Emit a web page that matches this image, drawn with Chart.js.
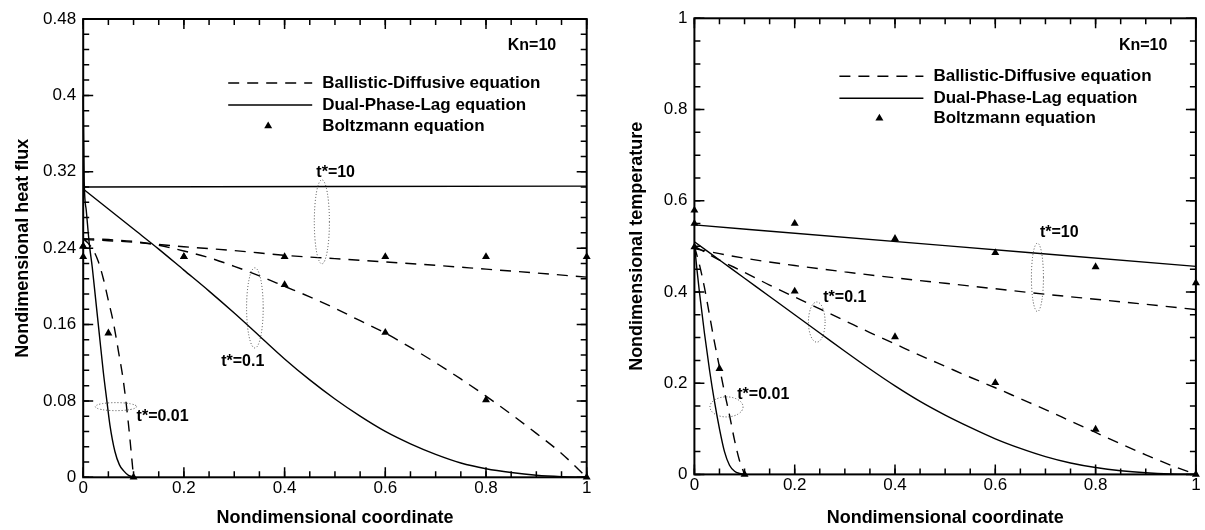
<!DOCTYPE html>
<html>
<head>
<meta charset="utf-8">
<script src="https://cdn.jsdelivr.net/npm/chart.js@4.4.0/dist/chart.umd.min.js"></script>
<style>
html, body { margin: 0; padding: 0; background: #fff; }
#wrap { position: relative; width: 1205px; height: 530px; }
.panel { position: absolute; top: 0; height: 530px; }
</style>
</head>
<body>
<div id="wrap">
  <div class="panel" style="left:0;width:600px"><canvas id="flux" width="600" height="530"></canvas></div>
  <div class="panel" style="left:600px;width:605px"><canvas id="temp" width="605" height="530"></canvas></div>
</div>
<script>
// ---- axis ticks ----
const xMajor = [0, 0.2, 0.4, 0.6, 0.8, 1];
const fluxMajor = [0, 0.08, 0.16, 0.24, 0.32, 0.4, 0.48];
const tempMajor = [0, 0.2, 0.4, 0.6, 0.8, 1];

// ---- left panel: heat flux ----
const fluxBd10X = [0, 0.05, 0.1, 0.2, 0.3, 0.4, 0.5, 0.6, 0.7, 0.8, 0.9, 1];
const fluxBd10Y = [0.249, 0.2478, 0.2462, 0.2415, 0.2375, 0.2325, 0.229, 0.2255, 0.222, 0.218, 0.214, 0.2096];
const fluxDpl10X = [0, 0.5, 1];
const fluxDpl10Y = [0.304, 0.3045, 0.305];

const fluxBd01X = [0, 0.05, 0.1, 0.15, 0.2, 0.25, 0.3, 0.35, 0.4, 0.45, 0.5, 0.55, 0.6, 0.65, 0.7, 0.75, 0.8, 0.85, 0.9, 0.95, 1];
const fluxBd01Y = [0.25, 0.249, 0.247, 0.243, 0.237, 0.23, 0.221, 0.211, 0.2, 0.189, 0.177, 0.164, 0.151, 0.136, 0.12, 0.103, 0.085, 0.066, 0.046, 0.025, 0];
const fluxDpl01X = [0, 0.05, 0.1, 0.15, 0.2, 0.25, 0.3, 0.35, 0.4, 0.45, 0.5, 0.55, 0.6, 0.65, 0.7, 0.75, 0.8, 0.85, 0.9, 0.95, 1];
const fluxDpl01Y = [0.302, 0.281, 0.26, 0.239, 0.217, 0.195, 0.172, 0.148, 0.124, 0.102, 0.082, 0.064, 0.048, 0.035, 0.024, 0.015, 0.009, 0.005, 0.0022, 0.0007, 0];

const fluxBd001X = [0, 0.01, 0.02, 0.03, 0.04, 0.05, 0.06, 0.07, 0.08, 0.09, 0.1];
const fluxBd001Y = [0.25, 0.245, 0.238, 0.226, 0.208, 0.185, 0.162, 0.132, 0.1, 0.055, 0];
const fluxDpl001X = [0, 0.002, 0.006, 0.012, 0.018, 0.025, 0.032, 0.04, 0.047, 0.053, 0.063, 0.072, 0.08, 0.09, 0.1];
const fluxDpl001Y = [0.40, 0.31, 0.28, 0.245, 0.22, 0.185, 0.15, 0.11, 0.08, 0.055, 0.027, 0.013, 0.007, 0.002, 0.0005];

const fluxBz10X = [0, 0.2, 0.4, 0.6, 0.8, 1];
const fluxBz10Y = [0.231, 0.231, 0.231, 0.231, 0.231, 0.231];
const fluxBz01X = [0, 0.2, 0.4, 0.6, 0.8, 1];
const fluxBz01Y = [0.242, 0.231, 0.2016, 0.1516, 0.081, 0];
const fluxBz001X = [0, 0.05, 0.1];
const fluxBz001Y = [0.242, 0.151, 0];

// ---- right panel: temperature ----
const tempBd10X = [0, 0.05, 0.1, 0.2, 0.3, 0.4, 0.5, 0.6, 0.7, 0.8, 0.9, 1];
const tempBd10Y = [0.495, 0.484, 0.474, 0.458, 0.444, 0.431, 0.419, 0.407, 0.395, 0.384, 0.373, 0.3615];
const tempDpl10X = [0, 0.5, 1];
const tempDpl10Y = [0.547, 0.5015, 0.456];

const tempBd01X = [0, 0.05, 0.1, 0.15, 0.2, 0.25, 0.3, 0.35, 0.4, 0.45, 0.5, 0.55, 0.6, 0.65, 0.7, 0.75, 0.8, 0.85, 0.9, 0.95, 1];
const tempBd01Y = [0.50, 0.47, 0.443, 0.415, 0.389, 0.363, 0.337, 0.311, 0.286, 0.261, 0.237, 0.213, 0.19, 0.166, 0.142, 0.117, 0.092, 0.067, 0.043, 0.02, 0];
const tempDpl01X = [0, 0.05, 0.1, 0.15, 0.2, 0.25, 0.3, 0.35, 0.4, 0.45, 0.5, 0.55, 0.6, 0.65, 0.7, 0.75, 0.8, 0.85, 0.9, 0.95, 1];
const tempDpl01Y = [0.51, 0.47, 0.43, 0.39, 0.35, 0.31, 0.27, 0.231, 0.194, 0.16, 0.13, 0.103, 0.078, 0.057, 0.039, 0.025, 0.015, 0.008, 0.0035, 0.001, 0];

const tempBd001X = [0, 0.01, 0.02, 0.03, 0.04, 0.05, 0.06, 0.07, 0.08, 0.09, 0.1];
const tempBd001Y = [0.50, 0.46, 0.41, 0.35, 0.29, 0.235, 0.18, 0.13, 0.075, 0.03, 0];
const tempDpl001X = [0, 0.005, 0.01, 0.02, 0.03, 0.04, 0.05, 0.06, 0.07, 0.08, 0.09, 0.1];
const tempDpl001Y = [0.505, 0.45, 0.40, 0.31, 0.23, 0.16, 0.10, 0.05, 0.02, 0.007, 0.002, 0];

const tempBz10X = [0, 0.2, 0.4, 0.6, 0.8, 1];
const tempBz10Y = [0.579, 0.55, 0.517, 0.486, 0.455, 0.42];
const tempBz01X = [0, 0.2, 0.4, 0.6, 0.8, 1];
const tempBz01Y = [0.55, 0.4016, 0.3016, 0.2008, 0.0987, 0];
const tempBz001X = [0, 0.05, 0.1];
const tempBz001Y = [0.4986, 0.232, 0];

const FONT = 'Liberation Sans, Arial, Helvetica, sans-serif';

function pts(xs, ys) {
    return xs.map((x, i) => ({x: x, y: ys[i]}));
}

function curve(label, xs, ys, dashed) {
    return {
        label: label,
        data: pts(xs, ys),
        showLine: true,
        borderColor: '#000',
        borderWidth: 1.4,
        borderDash: dashed ? [11, 8] : [],
        pointRadius: 0,
        cubicInterpolationMode: 'monotone',
        fill: false,
        clip: false
    };
}

function marks(label, xs, ys) {
    return {
        label: label,
        data: pts(xs, ys),
        showLine: false,
        pointStyle: 'triangle',
        pointRadius: 4.6,
        backgroundColor: '#000',
        borderColor: '#000',
        borderWidth: 0,
        clip: false
    };
}

function range(a, b, step) {
    const out = [];
    for (let i = 0; a + i * step <= b + 1e-9; i++) out.push(+(a + i * step).toFixed(4));
    return out;
}

// frame, inward ticks, legend, dotted ellipses and labels
function decor(cfg) {
    return {
        id: 'decor',
        afterDatasetsDraw(chart) {
            const ctx = chart.ctx;
            const a = chart.chartArea;
            const xs = chart.scales.x, ys = chart.scales.y;
            ctx.save();

            // dotted ellipses
            ctx.strokeStyle = '#444';
            ctx.lineWidth = 1;
            ctx.setLineDash([1, 2]);
            cfg.ellipses.forEach(e => {
                const cx = xs.getPixelForValue(e.x), cy = ys.getPixelForValue(e.y);
                const rx = Math.abs(xs.getPixelForValue(e.x + e.rx) - cx);
                const ry = Math.abs(ys.getPixelForValue(e.y + e.ry) - cy);
                ctx.beginPath();
                ctx.ellipse(cx, cy, rx, ry, 0, 0, Math.PI * 2);
                ctx.stroke();
            });
            ctx.setLineDash([]);

            // time labels
            ctx.fillStyle = '#000';
            ctx.font = 'bold 16px ' + FONT;
            ctx.textAlign = 'left';
            ctx.textBaseline = 'middle';
            cfg.labels.forEach(l => {
                ctx.fillText(l.t, xs.getPixelForValue(l.x), ys.getPixelForValue(l.y));
            });

            // Kn label
            ctx.textAlign = 'right';
            ctx.fillText('Kn=10', a.left + 473, a.top + 27);

            // legend
            const rows = cfg.legendRows;
            ctx.font = 'bold 17px ' + FONT;
            ctx.textAlign = 'left';
            ctx.strokeStyle = '#000';
            ctx.lineWidth = 1.4;
            ctx.setLineDash([11, 8]);
            ctx.beginPath();
            ctx.moveTo(a.left + 145, a.top + rows[0]);
            ctx.lineTo(a.left + 229, a.top + rows[0]);
            ctx.stroke();
            ctx.setLineDash([]);
            ctx.beginPath();
            ctx.moveTo(a.left + 145, a.top + rows[1]);
            ctx.lineTo(a.left + 229, a.top + rows[1]);
            ctx.stroke();
            ctx.beginPath();
            const tx = a.left + 185, ty = a.top + rows[2];
            ctx.moveTo(tx, ty - 4.6);
            ctx.lineTo(tx + 4, ty + 2.3);
            ctx.lineTo(tx - 4, ty + 2.3);
            ctx.closePath();
            ctx.fill();
            ctx.fillText('Ballistic-Diffusive equation', a.left + 239, a.top + rows[0]);
            ctx.fillText('Dual-Phase-Lag equation', a.left + 239, a.top + rows[1]);
            ctx.fillText('Boltzmann equation', a.left + 239, a.top + rows[2]);

            // inward ticks on all four sides
            ctx.lineWidth = 1.5;
            const tick = (vals, len) => {
                vals.forEach(v => {
                    const px = xs.getPixelForValue(v);
                    ctx.beginPath();
                    ctx.moveTo(px, a.bottom); ctx.lineTo(px, a.bottom - len);
                    ctx.moveTo(px, a.top); ctx.lineTo(px, a.top + len);
                    ctx.stroke();
                });
            };
            const tickY = (vals, len) => {
                vals.forEach(v => {
                    const py = ys.getPixelForValue(v);
                    ctx.beginPath();
                    ctx.moveTo(a.left, py); ctx.lineTo(a.left + len, py);
                    ctx.moveTo(a.right, py); ctx.lineTo(a.right - len, py);
                    ctx.stroke();
                });
            };
            tick(cfg.minorX, 6);
            tick(xMajor, 10);
            tickY(cfg.minorY, 6);
            tickY(cfg.majorY, 10);

            ctx.lineWidth = 2;
            ctx.strokeRect(a.left, a.top, a.right - a.left, a.bottom - a.top);
            ctx.restore();
        }
    };
}

function makeChart(id, datasets, p) {
    return new Chart(document.getElementById(id), {
        type: 'scatter',
        data: {datasets: datasets},
        options: {
            responsive: false,
            animation: false,
            layout: {padding: {top: p.padTop, right: p.padRight, left: 0, bottom: 0}},
            plugins: {legend: {display: false}, tooltip: {enabled: false}},
            scales: {
                x: {
                    type: 'linear', min: 0, max: 1,
                    grid: {display: false, drawTicks: false},
                    border: {display: false},
                    afterBuildTicks: s => { s.ticks = xMajor.map(v => ({value: v})); },
                    afterFit: s => { s.height = p.xHeight; },
                    ticks: {padding: 1, color: '#000', font: {family: FONT, size: 17}, maxRotation: 0, autoSkip: false,
                            callback: v => String(v)},
                    title: {display: true, text: 'Nondimensional coordinate', color: '#000',
                            font: {family: FONT, size: 18, weight: 'bold'}, padding: {top: 0, bottom: 1}}
                },
                y: {
                    type: 'linear', min: 0, max: p.yMax,
                    grid: {display: false, drawTicks: false},
                    border: {display: false},
                    afterBuildTicks: s => { s.ticks = p.majorY.map(v => ({value: v})); },
                    afterFit: s => { s.width = p.yWidth; },
                    ticks: {padding: 7, color: '#000', font: {family: FONT, size: 17}, autoSkip: false,
                            callback: v => String(v)},
                    title: {display: true, text: p.yTitle, color: '#000',
                            font: {family: FONT, size: 18, weight: 'bold'}, padding: {top: p.yTitlePad, bottom: 0}}
                }
            }
        },
        plugins: [decor(p)]
    });
}

makeChart('flux', [
    curve('Ballistic-Diffusive equation', fluxBd10X, fluxBd10Y, true),
    curve('Dual-Phase-Lag equation', fluxDpl10X, fluxDpl10Y, false),
    curve('Ballistic-Diffusive equation', fluxBd01X, fluxBd01Y, true),
    curve('Dual-Phase-Lag equation', fluxDpl01X, fluxDpl01Y, false),
    curve('Ballistic-Diffusive equation', fluxBd001X, fluxBd001Y, true),
    curve('Dual-Phase-Lag equation', fluxDpl001X, fluxDpl001Y, false),
    marks('Boltzmann equation', fluxBz10X, fluxBz10Y),
    marks('Boltzmann equation', fluxBz01X, fluxBz01Y),
    marks('Boltzmann equation', fluxBz001X, fluxBz001Y)
], {
    padTop: 19, padRight: 13.3, xHeight: 52.7, yWidth: 83.2, yMax: 0.48,
    yTitle: 'Nondimensional heat flux', yTitlePad: 12,
    majorY: fluxMajor, minorY: range(0, 0.48, 0.016), minorX: range(0, 1, 0.05),
    legendRows: [64, 86, 107],
    ellipses: [
        {x: 0.474, y: 0.2676, rx: 0.015, ry: 0.044},
        {x: 0.341, y: 0.1774, rx: 0.0165, ry: 0.042},
        {x: 0.065, y: 0.074, rx: 0.041, ry: 0.0042}
    ],
    labels: [
        {t: 't*=10', x: 0.463, y: 0.319},
        {t: 't*=0.1', x: 0.274, y: 0.121},
        {t: 't*=0.01', x: 0.106, y: 0.0635}
    ]
});

makeChart('temp', [
    curve('Ballistic-Diffusive equation', tempBd10X, tempBd10Y, true),
    curve('Dual-Phase-Lag equation', tempDpl10X, tempDpl10Y, false),
    curve('Ballistic-Diffusive equation', tempBd01X, tempBd01Y, true),
    curve('Dual-Phase-Lag equation', tempDpl01X, tempDpl01Y, false),
    curve('Ballistic-Diffusive equation', tempBd001X, tempBd001Y, true),
    curve('Dual-Phase-Lag equation', tempDpl001X, tempDpl001Y, false),
    marks('Boltzmann equation', tempBz10X, tempBz10Y),
    marks('Boltzmann equation', tempBz01X, tempBz01Y),
    marks('Boltzmann equation', tempBz001X, tempBz001Y)
], {
    padTop: 18.3, padRight: 9.1, xHeight: 55.6, yWidth: 94.4, yMax: 1,
    yTitle: 'Nondimensional temperature', yTitlePad: 26.7,
    majorY: tempMajor, minorY: range(0, 1, 0.05), minorX: range(0, 1, 0.05),
    legendRows: [58, 80, 100],
    ellipses: [
        {x: 0.684, y: 0.432, rx: 0.012, ry: 0.075},
        {x: 0.244, y: 0.334, rx: 0.0166, ry: 0.044},
        {x: 0.064, y: 0.148, rx: 0.033, ry: 0.022}
    ],
    labels: [
        {t: 't*=10', x: 0.689, y: 0.531},
        {t: 't*=0.1', x: 0.257, y: 0.387},
        {t: 't*=0.01', x: 0.0855, y: 0.176}
    ]
});
</script>
</body>
</html>
